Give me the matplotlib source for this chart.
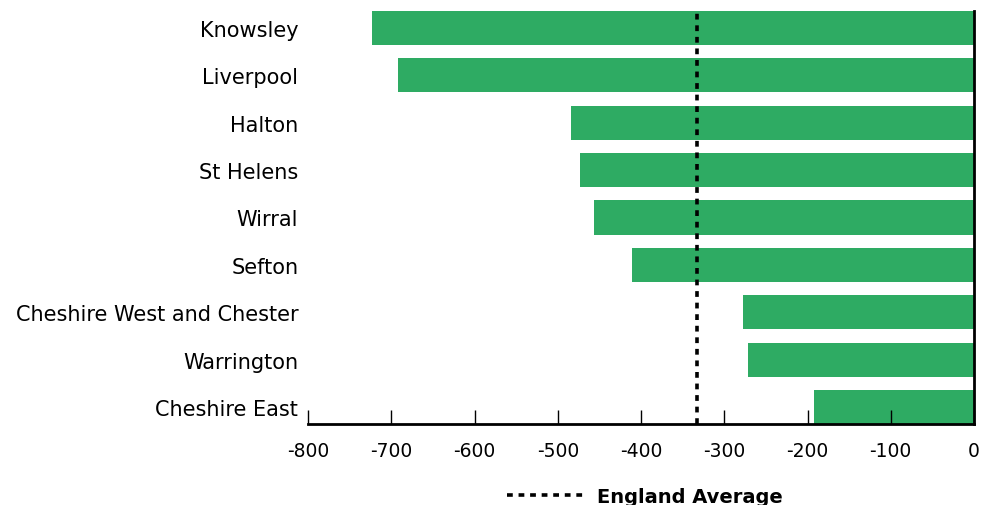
import matplotlib
matplotlib.use("Agg")
import matplotlib.pyplot as plt
from matplotlib.lines import Line2D

areas = ["Knowsley", "Liverpool", "Halton", "St Helens", "Wirral", "Sefton",
         "Cheshire West and Chester", "Warrington", "Cheshire East"]
values = [-723, -692, -484, -473, -457, -411, -278, -272, -192]
england_avg = -333
xticks = [-800, -700, -600, -500, -400, -300, -200, -100, 0]

plt.rcParams['font.family'] = ['DejaVu Sans']

fig = plt.figure(figsize=(9.82, 5.06), dpi=100)
ax = fig.add_axes([308/982, 1 - 425/506, 666/982, 413/506])

pos = list(range(len(areas)))
ax.barh(pos, values, height=0.72, color="#2eab63")
ax.axvline(england_avg, color="black", lw=2.6, linestyle=(0, (1.6, 1.6)))

ax.set_xlim(-800, 0)
ax.set_ylim(len(areas) - 0.64, -0.36)
ax.set_yticks(pos)
ax.set_yticklabels(areas, fontsize=15, va="center_baseline")
ax.set_xticks(xticks)
ax.set_xticklabels([str(t) for t in xticks], fontsize=13.5)
ax.tick_params(axis="y", length=0, pad=7)
ax.tick_params(axis="x", direction="in", length=10, width=1, pad=12)

for s in ["top", "left"]:
    ax.spines[s].set_visible(False)
ax.spines["bottom"].set_linewidth(2)
ax.spines["right"].set_linewidth(2)

handle = Line2D([], [], color="black", lw=2.6, linestyle=(0, (1.6, 1.6)))
fig.legend([handle], ["England Average"], loc="lower center",
           bbox_to_anchor=(645/982, -0.037), frameon=False,
           prop={"size": 14, "weight": "semibold"}, handlelength=4.0, handletextpad=0.6)

fig.savefig("out.png", dpi=100)
